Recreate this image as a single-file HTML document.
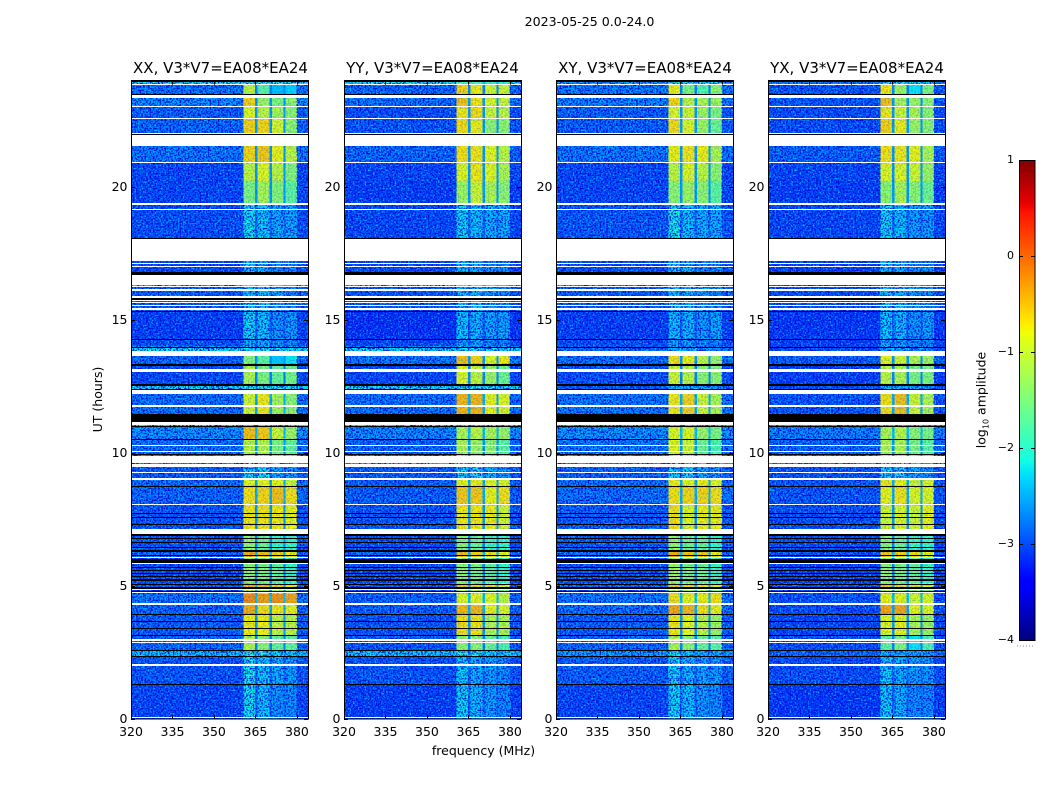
<!DOCTYPE html>
<html lang="en">
<head>
<meta charset="utf-8">
<title>2023-05-25 0.0-24.0</title>
<style>
html,body{margin:0;padding:0;background:#fff;}
svg{display:block;}
text{font-family:"DejaVu Sans","Liberation Sans",sans-serif;fill:#000;}
</style>
</head>
<body>
<svg id="chart" xmlns="http://www.w3.org/2000/svg" width="1050" height="800" viewBox="0 0 1050 800">
  <defs>
    <filter id="grainLight" x="0" y="0" width="100%" height="100%" color-interpolation-filters="sRGB">
      <feTurbulence type="fractalNoise" baseFrequency="0.6" numOctaves="1" seed="3"/>
      <feColorMatrix type="matrix" values="0 0 0 0 0  0 0 0 0 0.78  0 0 0 0 1  3.4 0 0 0 -1.6"/>
    </filter>
    <filter id="grainDark" x="0" y="0" width="100%" height="100%" color-interpolation-filters="sRGB">
      <feTurbulence type="fractalNoise" baseFrequency="0.6" numOctaves="1" seed="11"/>
      <feColorMatrix type="matrix" values="0 0 0 0 0  0 0 0 0 0.05  0 0 0 0 0.85  0 4.4 0 0 -1.9"/>
    </filter>
  </defs>
  <text x="589.5" y="26" font-size="12.6" text-anchor="middle">2023-05-25 0.0-24.0</text>
  <text x="220.5" y="73" font-size="15" text-anchor="middle">XX, V3*V7=EA08*EA24</text>
  <text x="432.5" y="73" font-size="15" text-anchor="middle">YY, V3*V7=EA08*EA24</text>
  <text x="645" y="73" font-size="15" text-anchor="middle">XY, V3*V7=EA08*EA24</text>
  <text x="857" y="73" font-size="15" text-anchor="middle">YX, V3*V7=EA08*EA24</text>
  <text x="0" y="0" font-size="12.5" text-anchor="middle" transform="translate(102,399.5) rotate(-90)">UT (hours)</text>
  <text x="483.5" y="755" font-size="12.5" text-anchor="middle">frequency (MHz)</text>
  <text x="0" y="0" font-size="12.5" text-anchor="middle" transform="translate(985.5,400) rotate(-90)">log<tspan font-size="8" dy="3">10</tspan><tspan dy="-3"> amplitude</tspan></text>
  <g id="panels"></g>
  <g id="colorbar"></g>
</svg>
<script>
// Axis tick values
const freqTicks = [320, 335, 350, 365, 380];
const hourTicks = [0, 5, 10, 15, 20];
const colorTicks = [1, 0, -1, -2, -3, -4];

// Frequency channel groups (MHz): off-band, four sub-bands and the notches between them
const channelEdges = [320, 360.6, 364.9, 365.7, 370.1, 371, 375.1, 375.9, 380, 384];
const channelSource = ['off', 's1', 'gap', 's2', 'gap', 's3', 'gap', 's4', 'off'];

// Time bands, hours (upper edge of each band, last value closes the axis)
const bandEdges = [24, 23.87, 23.40, 23.01, 22.56, 21.77, 20.90, 20.23, 19.36, 18.01, 16.50, 16.26, 15.32, 14.27, 14.00, 13.72, 13.35, 12.58, 12.29, 11.24, 10.98, 10.51, 9.74, 9.51, 9.02, 8.72, 8.10, 7.07, 6.35, 6.09, 5.11, 4.89, 4.70, 4.32, 3.95, 3.12, 2.59, 2.35, 1.30, 0];

// log10 amplitude inside the notches between sub-bands, per time band
const notchLevels = [-2.4, -2.7, -2.6, -2.6, -2.6, -2.6, -2.6, -2.6, -2.8, -2.9, -2.5, -2.8, -2.9, -2.9, -2.3, -2.6, -2.7, -2.3, -2.5, -2.3, -2.4, -2.6, -2.5, -2.8, -2.5, -2.5, -2.6, -2.7, -2.4, -2.7, -2.4, -2.6, -2.4, -2.5, -2.6, -2.7, -2.5, -2.8, -2.8];

// log10 amplitude per time band: [off-band, sub-band 1, 2, 3, 4]
const levelsXX = [
[-2.1,-1.9,-1.9,-2.0,-2.0],[-2.75,-1.05,-1.65,-2.4,-2.3],[-2.6,-0.6,-1.25,-1.45,-1.35],[-2.85,-0.85,-1.05,-1.2,-1.35],
[-2.8,-0.6,-0.62,-0.9,-1.35],[-2.7,-0.62,-0.55,-0.78,-1.05],[-3.0,-1.05,-0.85,-1.05,-1.4],[-3.0,-1.45,-1.2,-1.4,-1.65],
[-2.95,-2.15,-2.25,-2.45,-2.45],[-3.0,-2.3,-2.4,-2.6,-2.6],[-2.3,-1.7,-1.5,-2.1,-2.3],[-2.85,-2.3,-2.3,-2.5,-2.6],
[-3.05,-2.2,-2.25,-2.55,-2.5],[-2.95,-2.45,-2.45,-2.6,-2.65],[-2.15,-2.1,-2.1,-2.15,-2.15],[-2.8,-1.4,-1.65,-2.35,-2.2],
[-3.0,-1.15,-1.45,-1.6,-1.5],[-2.15,-2.0,-2.0,-2.1,-2.1],[-2.75,-0.9,-0.72,-1.2,-1.35],[-2.1,-2.0,-2.0,-2.1,-2.1],
[-2.55,-0.5,-0.55,-0.95,-1.25],[-2.75,-1.1,-1.1,-1.45,-1.6],[-2.5,-2.0,-2.0,-2.1,-2.1],[-2.85,-2.2,-2.1,-2.4,-2.5],
[-2.75,-0.85,-0.8,-0.8,-1.0],[-2.8,-0.68,-0.62,-0.5,-0.68],[-2.9,-0.7,-0.7,-0.72,-0.78],[-2.9,-1.35,-1.55,-1.9,-1.9],
[-2.8,-0.4,-0.5,-0.6,-0.75],[-2.95,-1.35,-1.45,-1.65,-1.9],[-2.8,-0.45,-0.5,-0.6,-0.75],[-2.9,-1.05,-1.15,-1.25,-1.35],
[-2.7,-0.2,-0.3,-0.25,-0.35],[-2.8,-0.4,-0.65,-0.72,-0.78],[-2.85,-0.75,-0.75,-1.0,-1.05],[-2.8,-1.15,-1.35,-1.6,-1.6],
[-2.3,-1.9,-2.0,-2.2,-2.25],[-2.9,-2.1,-2.25,-2.4,-2.5],[-3.0,-2.15,-2.3,-2.55,-2.6]];

const levelsYY = [
[-2.1,-1.8,-1.8,-1.9,-1.9],[-2.8,-0.6,-0.75,-0.95,-0.95],[-2.75,-0.5,-0.7,-0.85,-1.0],[-2.95,-0.72,-0.65,-0.95,-1.05],
[-2.9,-0.65,-0.75,-1.35,-1.35],[-2.8,-0.68,-0.7,-0.8,-1.05],[-3.0,-0.85,-0.72,-0.85,-1.15],[-3.05,-1.25,-0.95,-1.15,-1.35],
[-3.0,-2.2,-2.3,-2.4,-2.4],[-3.0,-2.3,-2.4,-2.6,-2.6],[-2.2,-1.5,-1.4,-2.0,-2.2],[-2.9,-2.35,-2.3,-2.5,-2.6],
[-3.15,-2.3,-2.35,-2.45,-2.45],[-3.0,-2.5,-2.45,-2.65,-2.65],[-2.2,-2.15,-2.15,-2.2,-2.2],[-2.7,-0.5,-0.62,-0.85,-0.75],
[-3.0,-0.85,-1.05,-1.25,-1.55],[-2.15,-2.0,-2.0,-2.1,-2.1],[-2.75,-0.45,-0.45,-0.78,-0.85],[-2.1,-2.0,-2.0,-2.1,-2.1],
[-2.6,-1.15,-1.05,-1.15,-1.25],[-2.8,-1.15,-1.25,-1.35,-1.65],[-2.3,-1.9,-1.9,-2.0,-2.1],[-2.85,-2.2,-2.1,-2.4,-2.5],
[-2.85,-0.8,-0.75,-0.8,-0.85],[-2.85,-0.55,-0.55,-0.78,-0.68],[-2.9,-0.72,-0.72,-0.75,-0.9],[-2.95,-1.35,-1.55,-1.85,-1.9],
[-2.8,-0.5,-0.6,-0.68,-0.8],[-2.95,-1.35,-1.45,-1.65,-1.9],[-2.85,-0.55,-0.62,-0.7,-0.85],[-2.9,-1.15,-1.25,-1.35,-1.45],
[-2.8,-0.85,-0.8,-0.85,-1.05],[-2.85,-0.45,-0.45,-0.78,-0.85],[-2.9,-0.65,-0.7,-1.1,-1.15],[-2.9,-1.35,-1.35,-1.55,-1.75],
[-2.25,-1.9,-2.0,-2.2,-2.25],[-2.9,-2.25,-2.4,-2.5,-2.6],[-3.05,-2.2,-2.35,-2.5,-2.6]];

const levelsXY = [
[-2.5,-2.0,-2.0,-2.1,-2.1],[-2.7,-0.75,-1.45,-1.75,-1.35],[-2.65,-0.62,-1.05,-1.15,-1.25],[-2.85,-0.85,-0.95,-1.25,-1.45],
[-2.85,-0.65,-0.85,-1.25,-1.55],[-2.7,-0.75,-0.7,-0.75,-1.15],[-3.0,-1.05,-0.85,-1.05,-1.35],[-3.0,-1.35,-1.25,-1.35,-1.65],
[-2.9,-2.1,-2.3,-2.4,-2.4],[-2.95,-2.3,-2.4,-2.6,-2.6],[-2.5,-2.0,-2.0,-2.3,-2.4],[-2.85,-2.3,-2.35,-2.5,-2.6],
[-3.05,-2.3,-2.35,-2.5,-2.45],[-2.95,-2.45,-2.5,-2.6,-2.65],[-2.8,-2.4,-2.5,-2.65,-2.65],[-2.75,-0.68,-0.75,-1.05,-1.25],
[-2.95,-0.95,-1.05,-1.35,-1.35],[-2.85,-2.4,-2.4,-2.5,-2.55],[-2.7,-0.72,-0.6,-0.95,-1.15],[-2.4,-2.2,-2.2,-2.3,-2.3],
[-2.55,-0.85,-0.85,-1.25,-1.45],[-2.7,-0.85,-0.95,-1.55,-1.75],[-2.5,-2.1,-2.1,-2.2,-2.2],[-2.8,-2.2,-2.15,-2.4,-2.5],
[-2.75,-0.75,-0.85,-0.75,-0.85],[-2.75,-0.68,-0.62,-0.62,-0.68],[-2.85,-0.68,-0.85,-0.75,-0.75],[-2.85,-1.3,-1.55,-1.6,-1.9],
[-2.75,-0.4,-0.55,-0.55,-0.75],[-2.9,-1.25,-1.45,-1.55,-1.85],[-2.75,-0.55,-0.68,-0.72,-0.85],[-2.85,-1.05,-1.15,-1.25,-1.45],
[-2.7,-0.68,-0.78,-0.75,-0.68],[-2.75,-0.35,-0.45,-0.68,-0.75],[-2.85,-0.72,-0.8,-1.05,-1.25],[-2.8,-1.15,-1.35,-1.55,-1.65],
[-2.5,-2.1,-2.3,-2.4,-2.45],[-2.85,-2.2,-2.35,-2.45,-2.5],[-3.0,-2.2,-2.3,-2.5,-2.6]];

const levelsYX = [
[-2.7,-2.1,-2.1,-2.2,-2.2],[-2.9,-0.72,-1.25,-2.2,-1.45],[-2.9,-0.5,-1.15,-1.25,-1.35],[-2.95,-0.72,-0.95,-1.15,-1.35],
[-2.95,-0.6,-0.75,-1.25,-1.35],[-2.85,-0.68,-0.72,-0.78,-1.15],[-3.0,-0.85,-0.85,-0.95,-1.25],[-3.05,-1.35,-1.15,-1.35,-1.55],
[-3.0,-2.2,-2.3,-2.5,-2.5],[-3.05,-2.35,-2.4,-2.6,-2.6],[-2.8,-2.0,-2.0,-2.3,-2.5],[-2.95,-2.3,-2.35,-2.5,-2.6],
[-3.1,-2.25,-2.35,-2.55,-2.5],[-3.05,-2.45,-2.5,-2.65,-2.65],[-3.0,-2.5,-2.5,-2.65,-2.65],[-2.85,-0.78,-0.95,-1.15,-1.25],
[-3.05,-1.05,-1.15,-1.45,-1.45],[-2.95,-2.35,-2.4,-2.5,-2.55],[-2.9,-0.68,-0.5,-0.95,-1.15],[-2.5,-2.2,-2.2,-2.3,-2.3],
[-2.65,-1.15,-1.05,-1.35,-1.45],[-2.8,-1.15,-1.15,-1.45,-1.65],[-2.6,-2.1,-2.1,-2.2,-2.3],[-2.9,-2.2,-2.2,-2.45,-2.55],
[-2.9,-0.75,-0.78,-0.95,-0.85],[-2.9,-0.78,-0.7,-0.85,-0.85],[-2.95,-0.95,-0.85,-0.95,-0.78],[-2.95,-1.35,-1.55,-1.85,-1.9],
[-2.9,-0.55,-0.6,-0.68,-0.85],[-3.0,-1.35,-1.45,-1.6,-1.9],[-2.9,-0.55,-0.68,-0.72,-0.85],[-2.95,-1.15,-1.25,-1.35,-1.45],
[-2.9,-0.78,-0.78,-0.95,-0.85],[-2.95,-0.35,-0.35,-0.78,-0.85],[-3.0,-0.85,-0.78,-1.15,-1.25],[-2.95,-1.65,-1.45,-2.2,-1.75],
[-2.8,-2.4,-2.4,-2.5,-2.5],[-2.95,-2.25,-2.4,-2.5,-2.55],[-3.1,-2.25,-2.4,-2.6,-2.6]];

// Flagged time ranges (hours): no data (white)
const flaggedStart = [23.87,23.46,23.05,22.59,22.03,21.97,20.94,19.40,19.17,18.06,17.14,17.03,16.69,16.28,16.17,15.90,15.75,15.68,15.56,15.45,13.82,13.35,13.14,12.37,11.80,11.18,10.30,10.08,9.87,9.59,9.29,9.06,8.10,7.16,6.10,5.86,4.87,4.79,4.36,2.99,2.89,2.05,0.08];
const flaggedEnd = [23.83,23.35,23.01,22.54,21.99,21.54,20.90,19.32,19.14,17.22,17.11,16.99,16.32,16.24,16.09,15.83,15.71,15.64,15.53,15.39,13.63,13.31,13.06,12.20,11.73,11.05,10.26,10.02,9.62,9.49,9.25,8.98,8.06,6.95,6.06,5.83,4.85,4.72,4.30,2.95,2.86,2.01,0.04];

// Dropped time ranges (hours): zero amplitude (black)
const droppedStart = [24,23.50,21.99,18.08,16.80,15.81,15.34,14.27,14.00,13.36,13.31,12.61,12.56,12.39,11.47,11.00,10.53,9.98,8.76,7.74,7.59,7.33,6.95,6.80,6.64,6.48,6.35,6.18,6.03,5.97,5.73,5.60,5.50,5.38,5.25,5.08,4.95,4.82,3.95,3.68,3.42,3.16,2.61,2.37,1.32];
const droppedEnd = [23.95,23.46,21.97,18.06,16.69,15.77,15.30,14.25,13.97,13.35,13.27,12.58,12.54,12.37,11.18,10.96,10.49,9.91,8.72,7.71,7.56,7.29,6.88,6.75,6.60,6.45,6.28,6.13,5.99,5.86,5.70,5.58,5.48,5.35,5.18,5.03,4.90,4.79,3.92,3.65,3.39,3.13,2.58,2.35,1.29];

const panelLevels = [levelsXX, levelsYY, levelsXY, levelsYX];
const panelKeys = ['xx', 'yy', 'xy', 'yx'];

const SVGNS = 'http://www.w3.org/2000/svg';
const panelLefts = [131, 344, 556, 768];
const panelW = 177, plotTop = 80.6, plotBottom = 719;
const freqMin = 320, freqMax = 384, hourMax = 24;
const cbX = 1019, cbW = 16, cbTop = 160, cbBottom = 640, cbMin = -4, cbMax = 1;
const faintLimit = -1.8;

function xScale(left, f) { return left + (f - freqMin) / (freqMax - freqMin) * panelW; }
function yScale(h) { return plotBottom - h / hourMax * (plotBottom - plotTop); }
function cbScale(v) { return cbBottom - (v - cbMin) / (cbMax - cbMin) * (cbBottom - cbTop); }

function ramp(stops, t) {
  for (let i = 1; i < stops.length; i++) {
    if (t <= stops[i][0]) {
      const a = stops[i - 1], b = stops[i];
      return a[1] + (b[1] - a[1]) * (t - a[0]) / (b[0] - a[0]);
    }
  }
  return stops[stops.length - 1][1];
}
const jetR = [[0,0],[0.35,0],[0.66,1],[0.89,1],[1,0.5]];
const jetG = [[0,0],[0.125,0],[0.375,1],[0.64,1],[0.91,0],[1,0]];
const jetB = [[0,0.5],[0.11,1],[0.34,1],[0.65,0],[1,0]];
function jet(v) {
  const t = Math.min(1, Math.max(0, (v - cbMin) / (cbMax - cbMin)));
  const c = s => Math.round(255 * ramp(s, t));
  return 'rgb(' + c(jetR) + ',' + c(jetG) + ',' + c(jetB) + ')';
}

function shape(parent, tag, attrs) {
  const el = document.createElementNS(SVGNS, tag);
  for (const k in attrs) el.setAttribute(k, attrs[k]);
  parent.appendChild(el);
  return el;
}

function addGrain(parent, x, y, w, h, op) {
  ['url(#grainLight)', 'url(#grainDark)'].forEach(function (f) {
    const r = shape(parent, 'rect', { x: x, y: y, width: w, height: h, fill: '#000', filter: f, opacity: op });
    
    
  });
}

const panelsRoot = document.getElementById('panels');
panelLefts.forEach(function (left, p) {
  const key = panelKeys[p];
  const levels = panelLevels[p];
  const g = shape(panelsRoot, 'g', {});
  
  

  const cellsGroup = shape(g, 'g', { 'shape-rendering': 'crispEdges' });
  
  
  levels.forEach(function (row, b) {
    const y0 = yScale(bandEdges[b]), y1 = yScale(bandEdges[b + 1]);
    channelSource.forEach(function (src, c) {
      const x0 = xScale(left, channelEdges[c]), x1 = xScale(left, channelEdges[c + 1]);
      const value = src === 'gap' ? notchLevels[b]
        : src === 'off' ? row[0]
        : row[Number(src.charAt(1))];
      const cell = shape(cellsGroup, 'rect', { x: x0, y: y0, width: x1 - x0, height: y1 - y0, fill: jet(value) });
      
      
    });
  });

  // Speckle texture over the heatmap (decorative): full over off-band and faint on-band time bands
  const grain = shape(g, 'g', {});
  
  
  const onStart = xScale(left, channelEdges[1]);
  const onEnd = xScale(left, channelEdges[8]);
  addGrain(grain, left, plotTop, onStart - left, plotBottom - plotTop, 1);
  addGrain(grain, onEnd, plotTop, left + panelW - onEnd, plotBottom - plotTop, 1);
  levels.forEach(function (row, b) {
    const y0 = yScale(bandEdges[b]), y1 = yScale(bandEdges[b + 1]);
    addGrain(grain, onStart, y0, onEnd - onStart, y1 - y0, row[1] < faintLimit ? 0.9 : 0.22);
  });

  const flags = shape(g, 'g', { 'shape-rendering': 'crispEdges' });
  
  
  flaggedStart.forEach(function (h, i) {
    const y0 = Math.round(yScale(h)), y1 = Math.round(yScale(flaggedEnd[i]));
    const r = shape(flags, 'rect', { x: left, y: y0, width: panelW, height: Math.max(1, y1 - y0), fill: '#fff' });
    
    
  });
  droppedStart.forEach(function (h, i) {
    const y0 = Math.round(yScale(h)), y1 = Math.round(yScale(droppedEnd[i]));
    const r = shape(flags, 'rect', { x: left, y: y0, width: panelW, height: Math.max(1, y1 - y0), fill: '#000' });
    
    
  });

  const frame = shape(g, 'rect', { x: left + 0.5, y: 80.5, width: panelW, height: 638.5, fill: 'none', stroke: '#000', 'stroke-width': 1 });
  
  

  freqTicks.forEach(function (f) {
    const x = Math.round(xScale(left, f)) + 0.5;
    const t1 = shape(g, 'line', { x1: x, x2: x, y1: plotBottom, y2: plotBottom - 4, stroke: '#000', 'stroke-width': 1 });
    
    
    const t2 = shape(g, 'line', { x1: x, x2: x, y1: plotTop, y2: plotTop + 4, stroke: '#000', 'stroke-width': 1 });
    
    
    const lab = shape(g, 'text', { x: xScale(left, f), y: 736, 'font-size': 12.5, 'text-anchor': 'middle' });
    lab.textContent = String(f);
    
    
  });
  hourTicks.forEach(function (h) {
    const y = Math.round(yScale(h)) + 0.5;
    const t1 = shape(g, 'line', { x1: left, x2: left + 4, y1: y, y2: y, stroke: '#000', 'stroke-width': 1 });
    
    
    const t2 = shape(g, 'line', { x1: left + panelW, x2: left + panelW - 4, y1: y, y2: y, stroke: '#000', 'stroke-width': 1 });
    
    
    const lab = shape(g, 'text', { x: left - 3.5, y: yScale(h) + 4, 'font-size': 12.5, 'text-anchor': 'end' });
    lab.textContent = String(h);
    
    
  });
});

// Colorbar
const cbRoot = document.getElementById('colorbar');
const cbRamp = shape(cbRoot, 'g', { 'shape-rendering': 'crispEdges' });


for (let py = cbTop; py < cbBottom; py++) {
  const v = cbMax - (py + 0.5 - cbTop) / (cbBottom - cbTop) * (cbMax - cbMin);
  const r = shape(cbRamp, 'rect', { x: cbX, y: py, width: cbW, height: 1, fill: jet(v) });
  
  
}
const cbFrame = shape(cbRoot, 'rect', { x: cbX + 0.5, y: cbTop + 0.5, width: cbW - 0.5, height: cbBottom - cbTop, fill: 'none', stroke: '#000', 'stroke-width': 1 });


colorTicks.forEach(function (v) {
  const y = Math.round(cbScale(v)) + 0.5;
  if (v > cbMin && v < cbMax) {
    const t1 = shape(cbRoot, 'line', { x1: cbX, x2: cbX + 4, y1: y, y2: y, stroke: '#000', 'stroke-width': 1 });
    
    
    const t2 = shape(cbRoot, 'line', { x1: cbX + cbW, x2: cbX + cbW - 4, y1: y, y2: y, stroke: '#000', 'stroke-width': 1 });
    
    
  }
  const lab = shape(cbRoot, 'text', { x: cbX - 5, y: cbScale(v) + 3, 'font-size': 11, 'text-anchor': 'end' });
  lab.textContent = v < 0 ? '\u2212' + Math.abs(v) : String(v);
  
  
});
const cbDots = shape(cbRoot, 'line', { x1: 1017, x2: 1035, y1: 646, y2: 646, stroke: '#888', 'stroke-width': 1, 'stroke-dasharray': '1 2' });


</script>
</body>
</html>
